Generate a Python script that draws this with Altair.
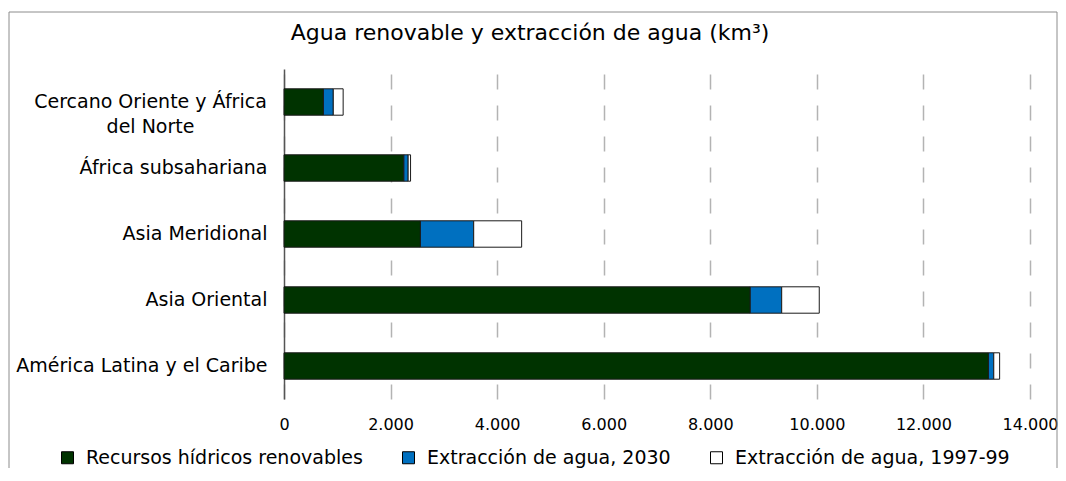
import altair as alt
import pandas as pd

# ---- data ----
categorias = [
    "Cercano Oriente y África del Norte",
    "África subsahariana",
    "Asia Meridional",
    "Asia Oriental",
    "América Latina y el Caribe",
]
renovables = [740, 2250, 2560, 8750, 13220]
extraccion_2030 = [185, 80, 1000, 590, 100]
extraccion_1997_99 = [185, 45, 900, 705, 110]

series = [
    "Recursos hídricos renovables",
    "Extracción de agua, 2030",
    "Extracción de agua, 1997-99",
]
colores = ["#003300", "#0070C0", "#FFFFFF"]
ticks_x = [0, 2000, 4000, 6000, 8000, 10000, 12000, 14000]
titulo = "Agua renovable y extracción de agua (km³)"

rows = []
for i, region in enumerate(categorias):
    for j, (serie, vals) in enumerate(zip(series, [renovables, extraccion_2030, extraccion_1997_99])):
        rows.append({"region": region, "serie": serie, "valor": vals[i], "orden": j})
df = pd.DataFrame(rows)

FONT = "DejaVu Sans"
largo = categorias[0]
label_expr = (
    "datum.label == '" + largo + "' ? "
    "['Cercano Oriente y África', 'del Norte'] : datum.label"
)
test_largo = "datum.value == '" + largo + "'"

bars = alt.Chart(df).mark_bar(stroke="#1a1a1a", strokeWidth=1).encode(
    x=alt.X(
        "valor:Q",
        stack="zero",
        scale=alt.Scale(domain=[0, 14000], nice=False),
        axis=alt.Axis(
            values=ticks_x,
            title=None,
            domain=False,
            ticks=False,
            grid=True,
            gridDash=[15, 16],
            gridColor="#b3b3b3",
            gridWidth=1.5,
            labelFont=FONT,
            labelFontSize=16,
            labelColor="black",
            labelPadding=17,
            labelFlush=False,
            labelExpr="replace(format(datum.value, ','), ',', '.')",
        ),
    ),
    y=alt.Y(
        "region:N",
        sort=categorias,
        scale=alt.Scale(paddingInner=0.6, paddingOuter=0.3),
        axis=alt.Axis(
            title=None,
            ticks=False,
            grid=False,
            domainColor="#555555",
            domainWidth=1.5,
            labelFont=FONT,
            labelFontSize=19,
            labelColor="black",
            labelAlign={"condition": {"test": test_largo, "value": "center"}, "value": "right"},
            labelPadding={"condition": {"test": test_largo, "value": 134}, "value": 17},
            labelLineHeight=25,
            labelLimit=400,
            labelExpr=label_expr,
        ),
    ),
    color=alt.Color(
        "serie:N",
        sort=series,
        scale=alt.Scale(domain=series, range=colores),
        legend=alt.Legend(
            title=None,
            orient="none",
            legendX=-226,
            legendY=379,
            direction="horizontal",
            columns=3,
            symbolType="square",
            symbolSize=144,
            symbolStrokeColor="black",
            symbolStrokeWidth=1,
            labelFont=FONT,
            labelFontSize=19,
            labelColor="black",
            labelLimit=400,
            labelOffset=9,
            columnPadding=36,
        ),
    ),
    order=alt.Order("orden:Q"),
)

one = pd.DataFrame({"k": [0]})

border = alt.Chart(one).mark_rect(
    filled=False, stroke="#8c8c8c", strokeWidth=1
).encode(
    x=alt.value(-275), x2=alt.value(773), y=alt.value(-57), y2=alt.value(480)
)

title_text = alt.Chart(one).mark_text(
    text=titulo, font=FONT, fontSize=22, color="black", align="center", baseline="middle"
).encode(x=alt.value(246), y=alt.value(-36))

chart = alt.layer(border, title_text, bars).properties(
    width=746,
    height=330,
    autosize=alt.AutoSizeParams(type="none"),
    padding={"left": 276, "top": 61, "right": 28, "bottom": 69},
    background="white",
).configure_view(stroke=None)

chart.save("out.html", embed_options={"renderer": "svg", "actions": False})
